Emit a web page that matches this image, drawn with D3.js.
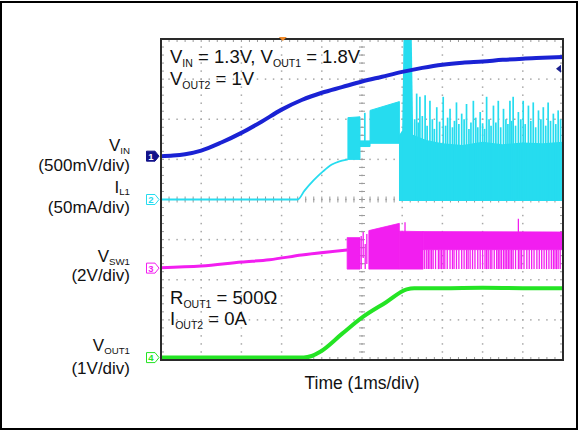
<!DOCTYPE html>
<html>
<head>
<meta charset="utf-8">
<script src="https://cdn.jsdelivr.net/npm/d3@7"></script>
<style>
  body { margin: 0; background: #fff; }
  text { font-family: "Liberation Sans", Arial, sans-serif; fill: #111; }
</style>
</head>
<body>
<div id="chart"></div>
<script>
// time in ms (1 ms/div, 10 div), values in each channel's own unit

// CH1 V_IN (V)
const vinT = [0, 0.3, 0.6, 1.0, 1.5, 2.0, 2.5, 3.0, 3.5, 4.0, 4.5, 5.0, 5.5, 6.0, 6.5, 7.0, 7.5, 8.0, 8.5, 9.0, 9.5, 10];
const vinV = [0, 0.008, 0.025, 0.07, 0.17, 0.29, 0.43, 0.58, 0.70, 0.79, 0.86, 0.93, 0.99, 1.05, 1.10, 1.14, 1.165, 1.18, 1.20, 1.215, 1.225, 1.235];

// CH2 I_L1 (mA)
const ilT = [0, 3.4, 3.57, 3.8, 4.03, 4.25, 4.44, 4.6, 4.65];
const ilV = [0, 0, 11, 24, 35, 43.5, 47.5, 49.5, 50];
// bursts: [t start, t end, low, high at start, high at end]
const ilBursts = [[4.65, 4.95, 50, 102, 103], [4.95, 5.2, 66, 73, 73], [5.2, 5.93, 70, 111, 122]];
const ilFillT = [5.92, 6.0, 6.3, 6.6, 7.0, 7.5, 8.0, 8.5, 9.0, 9.5, 10];
const ilFillHi = [80, 86, 80, 74, 70, 68, 72, 69, 71, 70, 72];
const ilPeakT = [6.0, 6.05, 6.22, 6.27];
const ilPeakV = [88, 260, 260, 95];
const ilSpikeT = [5.07, 6.31, 6.36, 6.40, 6.44, 6.50, 6.57, 6.62, 6.69, 6.75, 6.80, 6.86, 6.93, 7.02, 7.08, 7.13, 7.19, 7.25, 7.30,
  7.35, 7.41, 7.48, 7.54, 7.60, 7.66, 7.71, 7.77, 7.83, 7.88, 7.94, 8.00, 8.05, 8.10, 8.16, 8.21, 8.27, 8.33, 8.39, 8.45,
  8.52, 8.58, 8.63, 8.68, 8.72, 8.76, 8.82, 8.89, 8.95, 9.01, 9.06, 9.14, 9.20, 9.26, 9.32, 9.39, 9.45, 9.51, 9.57, 9.63,
  9.69, 9.76, 9.82, 9.88, 9.94];
const ilSpikeV = [108, 100, 132, 96, 128, 104, 130, 92, 123, 100, 88, 115, 97, 128, 92, 102, 113, 90, 98,
  121, 94, 107, 100, 119, 88, 96, 123, 102, 90, 109, 95, 88, 128, 100, 92, 117, 96, 123, 90,
  113, 100, 94, 123, 98, 128, 92, 109, 100, 123, 94, 117, 98, 121, 90, 111, 100, 115, 92, 121,
  98, 107, 94, 111, 100];

// CH3 V_SW1 (V)
const swT = [0, 1.0, 2.0, 2.7, 3.5, 4.63];
const swV = [0.02, 0.1, 0.3, 0.42, 0.65, 0.9];
const swBursts = [[4.63, 4.95, -0.05, 1.52, 1.52], [5.17, 5.93, -0.05, 1.87, 2.23], [5.93, 6.52, -0.05, 1.84, 1.82], [6.52, 10, 0.92, 1.82, 1.80]];
const swGapLines = [[4.98, -0.05, 1.6], [5.03, 0.5, 1.8], [5.08, -0.05, 1.2], [5.12, 0.2, 1.7]];
const swLowT = [6.56, 6.61, 6.65, 6.69, 6.73, 6.77, 6.83, 6.90, 6.94, 6.98, 7.02, 7.06, 7.12, 7.19, 7.25, 7.29, 7.35, 7.41,
  7.48, 7.54, 7.60, 7.64, 7.69, 7.75, 7.81, 7.88, 7.94, 8.00, 8.06, 8.10, 8.14, 8.19, 8.23, 8.29, 8.35, 8.39, 8.43, 8.47,
  8.52, 8.56, 8.60, 8.64, 8.68, 8.72, 8.76, 8.82, 8.89, 8.93, 8.97, 9.03, 9.10, 9.16, 9.22, 9.28, 9.35, 9.41, 9.47, 9.53,
  9.59, 9.65, 9.71, 9.76, 9.80, 9.84, 9.88, 9.93];
const swSpikeT = [6.07, 8.89];
const swSpikeV = [2.28, 2.46];

// CH4 V_OUT1 (V)
const voutT = [0, 3.55, 3.75, 3.96, 4.5, 5.03, 5.6, 6.11, 6.3, 7, 8, 9, 10];
const voutV = [0, 0, 0.04, 0.145, 0.59, 1.02, 1.38, 1.70, 1.73, 1.73, 1.74, 1.73, 1.73];

const width = 578, height = 431;
const box = { left: 161, top: 39, width: 402, height: 321 };

const svg = d3.select("#chart").append("svg")
    .attr("width", width)
    .attr("height", height);

svg.append("rect").attr("x", 1).attr("y", 2).attr("width", 576).attr("height", 427)
    .attr("fill", "#fff").attr("stroke", "#000").attr("stroke-width", 2);

const x = d3.scaleLinear().domain([0, 10]).range([box.left, box.left + box.width]);
const yDiv = d3.scaleLinear().domain([0, 8]).range([box.top, box.top + box.height]);

// channel offset (div from top) and units per div
const ch1 = { off: 2.92, per: 0.5, color: "#1a22d4" };
const ch2 = { off: 4.0, per: 50, color: "#26dcef" };
const ch3 = { off: 5.71, per: 2, color: "#f21ef0" };
const ch4 = { off: 7.94, per: 1, color: "#24e424" };
const yOf = (c, v) => yDiv(c.off - v / c.per);

// grid
const grid = svg.append("g");
const dots = [];
for (let k = 1; k < 10; k++) for (let j = 0; j <= 40; j++) dots.push([x(k), yDiv(j / 5)]);
for (let m = 1; m < 8; m++) for (let j = 0; j <= 50; j++) dots.push([x(j / 5), yDiv(m)]);
grid.selectAll("rect.dot").data(dots).join("rect")
    .attr("x", d => d[0] - 0.75).attr("y", d => d[1] - 0.75)
    .attr("width", 1.5).attr("height", 1.5).attr("fill", "#a8a8a8");

// centre line ticks and border ticks
const ticks = [];
for (let j = 0; j <= 50; j++) {
  ticks.push([x(j / 5), yDiv(4) - 3, x(j / 5), yDiv(4) + 3]);
  ticks.push([x(j / 5), box.top, x(j / 5), box.top + 3]);
  ticks.push([x(j / 5), box.top + box.height, x(j / 5), box.top + box.height - 3]);
}
for (let j = 0; j <= 40; j++) {
  ticks.push([x(5) - 3, yDiv(j / 5), x(5) + 3, yDiv(j / 5)]);
  ticks.push([box.left, yDiv(j / 5), box.left + 3, yDiv(j / 5)]);
  ticks.push([box.left + box.width, yDiv(j / 5), box.left + box.width - 3, yDiv(j / 5)]);
}
grid.selectAll("line").data(ticks).join("line")
    .attr("x1", d => d[0]).attr("y1", d => d[1]).attr("x2", d => d[2]).attr("y2", d => d[3])
    .attr("stroke", "#9a9a9a").attr("stroke-width", 1);

svg.append("clipPath").attr("id", "plot").append("rect")
    .attr("x", box.left).attr("y", box.top).attr("width", box.width).attr("height", box.height);
const traces = svg.append("g").attr("clip-path", "url(#plot)");

const lineOf = (c, curve) => d3.line().x(d => x(d[0])).y(d => yOf(c, d[1])).curve(curve || d3.curveLinear);
const bandOf = c => d3.area().x(d => x(d[0])).y0(d => yOf(c, d[1])).y1(d => yOf(c, d[2]));

// CH2 inductor current
traces.append("path").datum(ilT.map((t, i) => [t, ilV[i]]))
    .attr("d", lineOf(ch2, d3.curveMonotoneX)).attr("fill", "none")
    .attr("stroke", ch2.color).attr("stroke-width", 1.8);
traces.selectAll("path.ilb").data(ilBursts).join("path").attr("class", "ilb")
    .attr("d", b => bandOf(ch2)([[b[0], b[2], b[3]], [b[1], b[2], b[4]]]))
    .attr("fill", ch2.color).attr("stroke", ch2.color).attr("stroke-width", 1);
traces.append("path").datum(ilFillT.map((t, i) => [t, -2, ilFillHi[i]]))
    .attr("d", bandOf(ch2)).attr("fill", ch2.color);
traces.append("path").datum(ilPeakT.map((t, i) => [t, 0, ilPeakV[i]]))
    .attr("d", bandOf(ch2)).attr("fill", ch2.color);
traces.selectAll("line.ils").data(ilSpikeT.map((t, i) => [t, ilSpikeV[i]])).join("line").attr("class", "ils")
    .attr("x1", d => x(d[0])).attr("x2", d => x(d[0]))
    .attr("y1", d => yOf(ch2, d[0] < 5.5 ? 66 : 0)).attr("y2", d => yOf(ch2, d[1]))
    .attr("stroke", ch2.color).attr("stroke-width", 1.7);

// CH1 input voltage
traces.append("path").datum(vinT.map((t, i) => [t, vinV[i]]))
    .attr("d", lineOf(ch1, d3.curveMonotoneX)).attr("fill", "none")
    .attr("stroke", ch1.color).attr("stroke-width", 4).attr("stroke-linecap", "round");

// CH3 switch node
traces.append("path").datum(swT.map((t, i) => [t, swV[i]]))
    .attr("d", lineOf(ch3, d3.curveMonotoneX)).attr("fill", "none")
    .attr("stroke", ch3.color).attr("stroke-width", 3);
traces.selectAll("path.swb").data(swBursts).join("path").attr("class", "swb")
    .attr("d", b => bandOf(ch3)([[b[0], b[2], b[3]], [b[1], b[2], b[4]]]))
    .attr("fill", ch3.color).attr("stroke", ch3.color).attr("stroke-width", 0.8);
const swLines = swGapLines.concat(swLowT.map(t => [t, -0.05, 0.92]), swSpikeT.map((t, i) => [t, 1.7, swSpikeV[i]]));
traces.selectAll("line.swl").data(swLines).join("line").attr("class", "swl")
    .attr("x1", d => x(d[0])).attr("x2", d => x(d[0]))
    .attr("y1", d => yOf(ch3, d[1])).attr("y2", d => yOf(ch3, d[2]))
    .attr("stroke", ch3.color).attr("stroke-width", 1.3);

// CH4 output voltage
traces.append("path").datum(voutT.map((t, i) => [t, voutV[i]]))
    .attr("d", lineOf(ch4, d3.curveMonotoneX)).attr("fill", "none")
    .attr("stroke", ch4.color).attr("stroke-width", 4);

// plot frame
svg.append("rect").attr("x", box.left).attr("y", box.top).attr("width", box.width).attr("height", box.height)
    .attr("fill", "none").attr("stroke", "#2a2a2a").attr("stroke-width", 2);

// trigger markers
svg.append("path").attr("d", `M${x(3.03) - 4},${box.top - 2} h8 l-4,4 z`).attr("fill", "#f08a28");
svg.append("path").attr("d", `M${box.left + box.width - 7},${yOf(ch1, 1.09)} l5,-4 v8 z`).attr("fill", "#1a2090");

// channel tags
const tags = [["1", ch1, true], ["2", ch2, false], ["3", ch3, false], ["4", ch4, false]];
tags.forEach(([n, c, filled]) => {
  const yy = yDiv(c.off);
  svg.append("path").attr("d", `M146.5,${yy - 5} h8.5 l4,5 l-4,5 h-8.5 z`)
      .attr("fill", filled ? "#12128a" : "#fff")
      .attr("stroke", filled ? "#12128a" : c.color).attr("stroke-width", 1);
  svg.append("text").attr("x", 151).attr("y", yy + 3.5).attr("text-anchor", "middle")
      .style("font-size", "9.5px").style("font-weight", "bold")
      .style("fill", filled ? "#fff" : c.color).text(n);
});

// text with subscripts: parts alternate normal / subscript
function label(px, py, parts, size, anchor, drop) {
  const d = drop || 4;
  const t = svg.append("text").attr("x", px).attr("y", py)
      .attr("text-anchor", anchor || "start").style("font-size", size + "px");
  parts.forEach((p, i) => {
    const sub = i % 2 === 1;
    t.append("tspan").attr("dy", i === 0 ? 0 : (sub ? d : -d))
        .style("font-size", (sub ? size * 0.57 : size) + "px").text(p);
  });
}

label(170, 63, ["V", "IN", " = 1.3V, V", "OUT1", " = 1.8V"], 18.5);
label(170, 85, ["V", "OUT2", " = 1V"], 18.5);
label(170, 304, ["R", "OUT1", " = 500\u03A9"], 18.5);
label(170, 325, ["I", "OUT2", " = 0A"], 18.5);
label(362, 389, ["Time (1ms/div)"], 17.5, "middle");

label(130, 151, ["V", "IN"], 17, "end", 2.5);
label(130, 171, ["(500mV/div)"], 17, "end");
label(130, 192.5, ["I", "L1"], 17, "end", 2.5);
label(130, 213, ["(50mA/div)"], 17, "end");
label(130, 262, ["V", "SW1"], 17, "end", 2.5);
label(130, 281, ["(2V/div)"], 17, "end");
label(130, 351, ["V", "OUT1"], 17, "end", 2.5);
label(130, 374, ["(1V/div)"], 17, "end");
</script>
</body>
</html>
